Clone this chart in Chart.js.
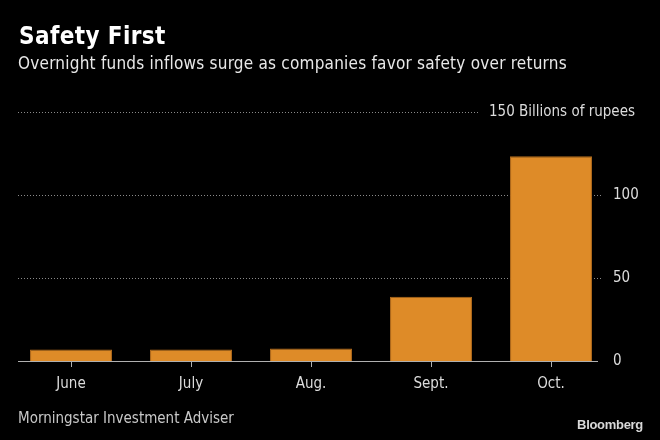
<!DOCTYPE html>
<html lang="en">
<head>
  <meta charset="UTF-8">
  <title>Safety First</title>
  <script src="https://cdn.jsdelivr.net/npm/chart.js"></script>
  <style>
    body { margin: 0; background: #000; }
    #wrap { position: relative; width: 660px; height: 440px; overflow: hidden; }
    #myChart { position: absolute; left: 0; top: 0; }
    .txt { position: absolute; white-space: nowrap; font-family: 'DejaVu Sans Condensed', 'DejaVu Sans', sans-serif; }
    #title { left: 19px; top: 24px; font-size: 24px; line-height: 24px; font-weight: bold; color: #fff; letter-spacing: 0.4px; }
    #subtitle { left: 18px; top: 55px; font-size: 17px; line-height: 17px; color: #e8e8e8; letter-spacing: 0.22px; }
    #source { left: 18px; top: 411px; font-size: 15px; line-height: 15px; color: #c8c8c8; }
    #brand { right: 17px; top: 418px; font-family: 'Liberation Sans', Arial, sans-serif; font-size: 13px; line-height: 13px; font-weight: bold; color: #d8d8d8; letter-spacing: -0.3px; }
  </style>
</head>
<body>
  <div id="wrap">
    <canvas id="myChart" width="660" height="440"></canvas>
    <div class="txt" id="title">Safety First</div>
    <div class="txt" id="subtitle">Overnight funds inflows surge as companies favor safety over returns</div>
    <div class="txt" id="source">Morningstar Investment Adviser</div>
    <div class="txt" id="brand">Bloomberg</div>
  </div>

  <script>
    // data (billions of rupees)
    const months = ['June', 'July', 'Aug.', 'Sept.', 'Oct.'];
    const inflows = [7, 7, 7.6, 38.7, 123.3];
    const yTicks = [0, 50, 100, 150];
    const unitLabel = 'Billions of rupees';

    const labelFont = { family: "'DejaVu Sans Condensed', 'DejaVu Sans', sans-serif", size: 15 };

    // dotted gridlines, baseline and the "150 Billions of rupees" label
    const bbgDecor = {
      id: 'bbgDecor',
      beforeDatasetsDraw(chart) {
        const ctx = chart.ctx;
        const y = chart.scales.y;
        ctx.save();
        ctx.strokeStyle = '#8a8a8a';
        ctx.lineWidth = 1;
        ctx.setLineDash([1, 2]);
        yTicks.forEach(v => {
          if (v === 0) return;
          const py = Math.round(y.getPixelForValue(v)) + 0.5;
          const endX = v === 150 ? 478 : 603;
          ctx.beginPath();
          ctx.moveTo(18, py);
          ctx.lineTo(endX, py);
          ctx.stroke();
        });
        ctx.restore();
      },
      afterDatasetsDraw(chart) {
        const ctx = chart.ctx;
        const y = chart.scales.y;
        ctx.save();
        // baseline
        const py0 = Math.round(y.getPixelForValue(0)) + 0.5;
        ctx.strokeStyle = '#b0b0b0';
        ctx.lineWidth = 1;
        ctx.beginPath();
        ctx.moveTo(18, py0);
        ctx.lineTo(598, py0);
        ctx.stroke();
        // top tick with unit
        ctx.fillStyle = '#dcdcdc';
        ctx.font = labelFont.size + 'px ' + labelFont.family;
        ctx.textAlign = 'right';
        ctx.textBaseline = 'middle';
        ctx.fillText(yTicks[yTicks.length - 1] + ' ' + unitLabel, 635, y.getPixelForValue(150));
        ctx.restore();
      }
    };

    const ctx = document.getElementById('myChart').getContext('2d');
    const myChart = new Chart(ctx, {
      type: 'bar',
      data: {
        labels: months,
        datasets: [{
          data: inflows,
          backgroundColor: '#de8b28',
          borderColor: '#b06a1c',
          borderWidth: 1,
          barPercentage: 0.683,
          categoryPercentage: 1
        }]
      },
      options: {
        responsive: false,
        animation: false,
        layout: { padding: { left: 11, right: 0, top: 112, bottom: 0 } },
        plugins: {
          legend: { display: false },
          tooltip: { enabled: false }
        },
        scales: {
          x: {
            afterFit(scale) { scale.height = 79; },
            border: { display: false },
            grid: {
              offset: false,
              drawOnChartArea: false,
              drawTicks: true,
              tickLength: 6,
              color: '#b0b0b0'
            },
            ticks: { color: '#dcdcdc', font: labelFont, padding: 8 }
          },
          y: {
            position: 'right',
            min: 0,
            max: 150,
            afterFit(scale) { scale.width = 49; },
            afterBuildTicks(scale) { scale.ticks = yTicks.map(v => ({ value: v })); },
            border: { display: false },
            grid: { display: false, drawTicks: false },
            ticks: {
              color: '#dcdcdc',
              font: labelFont,
              padding: 2,
              callback: v => (v === 150 ? '' : v)
            }
          }
        }
      },
      plugins: [bbgDecor]
    });
  </script>
</body>
</html>
